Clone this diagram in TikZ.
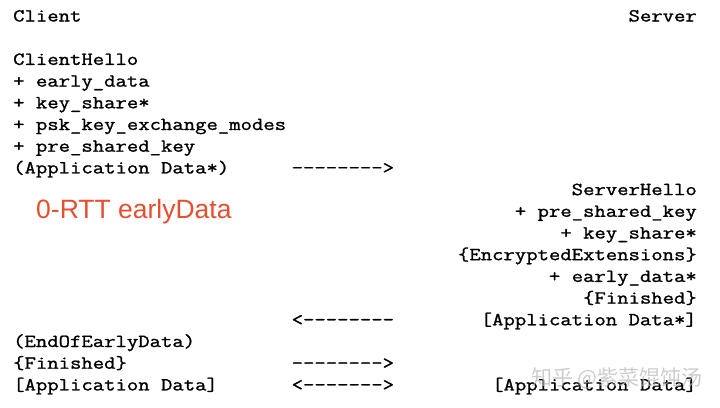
\documentclass[tikz,border=0pt]{standalone}
\usepackage{fontspec}
\setmonofont[FakeStretch=1.2,FakeBold=1.2]{Latin Modern Mono}
\setsansfont{Liberation Sans}
\newfontfamily\cjkfont{Noto Sans CJK SC}
\definecolor{rttred}{HTML}{E4502F}
\begin{document}
\begin{tikzpicture}[x=1pt,y=-1pt,
  txt/.style={inner sep=0pt, text=black, font=\fontsize{18.4}{21.7}\selectfont\ttfamily},
  lt/.style={txt, anchor=base west},
  rt/.style={txt, anchor=base east}]
\useasboundingbox (0,0) rectangle (720,407);
\fill[white] (0,0) rectangle (720,407);
\def\L{13}
\def\R{697}
\def\A{291.5}
% header
\node[lt] (client) at (\L,{21.5}) {Client};
\node[rt] (server) at (\R,{21.5}) {Server};
% ClientHello
\node[lt] (ch)  at (\L,{21.5+21.7*2}) {ClientHello};
\node[lt] (ch1) at (\L,{21.5+21.7*3}) {+ early\_data};
\node[lt] (ch2) at (\L,{21.5+21.7*4}) {+ key\_share*};
\node[lt] (ch3) at (\L,{21.5+21.7*5}) {+ psk\_key\_exchange\_modes};
\node[lt] (ch4) at (\L,{21.5+21.7*6}) {+ pre\_shared\_key};
\node[lt] (ch5) at (\L,{21.5+21.7*7}) {(Application Data*)};
\node[lt] (a1)  at (\A,{21.5+21.7*7}) {-{}-{}-{}-{}-{}-{}-{}->};
% ServerHello
\node[rt] (sh)  at (\R,{21.5+21.7*8}) {ServerHello};
\node[rt] (sh1) at (\R,{21.5+21.7*9}) {+ pre\_shared\_key};
\node[rt] (sh2) at (\R,{21.5+21.7*10}) {+ key\_share*};
\node[rt] (sh3) at (\R,{21.5+21.7*11}) {\{EncryptedExtensions\}};
\node[rt] (sh4) at (\R,{21.5+21.7*12}) {+ early\_data*};
\node[rt] (sh5) at (\R,{21.5+21.7*13}) {\{Finished\}};
\node[rt] (sh6) at (\R,{21.5+21.7*14}) {[Application Data*]};
\node[lt] (a2)  at (\A,{21.5+21.7*14}) {<-{}-{}-{}-{}-{}-{}-{}-};
% client finish
\node[lt] (c1) at (\L,{21.5+21.7*15}) {(EndOfEarlyData)};
\node[lt] (c2) at (\L,{21.5+21.7*16}) {\{Finished\}};
\node[lt] (a3) at (\A,{21.5+21.7*16}) {-{}-{}-{}-{}-{}-{}-{}->};
\node[lt] (c3) at (\L,{21.5+21.7*17}) {[Application Data]};
\node[lt] (a4) at (\A,{21.5+21.7*17}) {<-{}-{}-{}-{}-{}-{}->};
\node[rt] (s7) at (\R,{21.5+21.7*17}) {[Application Data]};
% red label
\node[anchor=base west, inner sep=0pt, text=rttred,
      font=\sffamily\fontsize{26.5}{26.5}\selectfont] (rtt) at (36,218) {0-RTT earlyData};
% watermark
\node[anchor=base east, inner sep=0pt, text=gray!55, opacity=0.7,
      font=\cjkfont\fontsize{21}{21}\selectfont] (wm) at (703,385) {知乎 @紫菜馄饨汤};
\end{tikzpicture}
\end{document}
